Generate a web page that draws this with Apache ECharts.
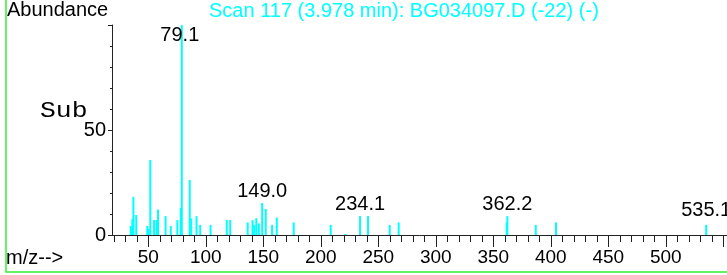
<!DOCTYPE html>
<html>
<head>
<meta charset="utf-8">
<script src="https://cdn.jsdelivr.net/npm/echarts@6/dist/echarts.min.js"></script>
<style>
html, body { margin: 0; padding: 0; background: #fff; }
#container { width: 727px; height: 275px; }
</style>
</head>
<body>
<div id="container"></div>
<script>
// mass spectrum, scan 117
var mzValues = [34.7, 36.1, 37.0, 39.5, 49.1, 50.3, 51.7, 55.0, 57.1, 58.4,
    65.0, 69.5, 75.2, 78.2, 79.1, 86.0, 87.3, 91.9, 95.1, 104.1,
    118.2, 121.2, 136.4, 140.6, 142.1, 143.9, 146.1, 149.0, 152.1, 157.6,
    161.7, 176.4, 208.6, 221.3, 234.1, 241.0, 259.9, 267.7, 361.6, 362.2,
    386.9, 404.5, 535.1];
var abundance = [4.3, 7.6, 18.2, 9.5, 4.3, 2.9, 35.7, 7.1, 7.1, 12.1,
    9.0, 4.3, 7.1, 12.9, 100, 26.2, 7.9, 9.0, 4.8, 4.8,
    7.1, 7.1, 6.0, 7.1, 4.8, 8.0, 5.5, 15.2, 12.4, 4.8,
    8.3, 6.0, 4.8, 0.5, 9.0, 9.0, 4.8, 6.0, 6.0, 9.0,
    4.8, 6.0, 4.8];
var labeledPeaks = [79.1, 149.0, 234.1, 362.2, 535.1];
var majorTicks = [50, 100, 150, 200, 250, 300, 350, 400, 450, 500, 550];
var tickLabels = [50, 100, 150, 200, 250, 300, 350, 400, 450, 500];
var minorTicks = [];
for (var t = 20; t <= 550; t += 10) minorTicks.push(t);

var dom = document.getElementById("container");
var myChart = echarts.init(dom);

var barData = mzValues.map(function (m, i) {
    var item = { value: [m, abundance[i]] };
    if (labeledPeaks.indexOf(m) >= 0) {
        item.label = {
            show: true,
            formatter: m.toFixed(1),
            position: 'top',
            distance: m > 500 ? 4 : 2
        };
        if (m === 79.1) {
            item.label.position = 'insideTop';
            item.label.distance = 0;
            item.label.offset = [-2, 0];
        }
    }
    return item;
});

var font = 'Arial, "Liberation Sans", sans-serif';

option = {
    animation: false,
    grid: {
        left: 112,
        right: 0,
        top: 25,
        bottom: 40,
        outerBoundsMode: 'none'
    },
    xAxis: [{
        type: 'value',
        min: 18.4,
        max: 553.2,
        axisLine: { lineStyle: { color: '#222', width: 1 } },
        axisTick: {
            show: true,
            customValues: majorTicks,
            length: 12,
            lineStyle: { color: '#222' }
        },
        axisLabel: {
            customValues: tickLabels,
            color: '#000',
            fontSize: 19,
            fontFamily: font,
            margin: 13
        },
        splitLine: { show: false }
    }, {
        type: 'value',
        min: 18.4,
        max: 553.2,
        position: 'bottom',
        axisLine: { show: false },
        axisTick: {
            show: true,
            customValues: minorTicks,
            length: 7,
            lineStyle: { color: '#222' }
        },
        axisLabel: { show: false },
        splitLine: { show: false }
    }],
    yAxis: {
        type: 'value',
        min: 0,
        max: 100,
        interval: 50,
        axisLine: { show: true, lineStyle: { color: '#222' } },
        axisTick: { show: true, length: 4, lineStyle: { color: '#222' } },
        minorTick: { show: true, splitNumber: 5, length: 2, lineStyle: { color: '#222' } },
        axisLabel: {
            color: '#000',
            fontSize: 20,
            fontFamily: font,
            margin: 6,
            formatter: function (v) { return v === 100 ? '' : v; }
        },
        splitLine: { show: false }
    },
    graphic: [{
        type: 'rect',
        shape: { x: 6, y: -5, width: 740, height: 277 },
        style: { fill: 'none', stroke: '#33ee33', lineWidth: 1.5 },
        silent: true
    }, {
        type: 'text',
        left: 7,
        top: 0,
        style: { text: 'Abundance', fill: '#000', font: '20px ' + font }
    }, {
        type: 'text',
        left: 209,
        top: 1,
        style: { text: 'Scan 117 (3.978 min): BG034097.D (-22) (-)', fill: '#00ffff', font: '20px ' + font }
    }, {
        type: 'text',
        x: 40,
        y: 100,
        scaleX: 1.2,
        style: { text: 'Sub', fill: '#000', font: '22px "Liberation Mono", "Courier New", monospace' }
    }, {
        type: 'text',
        left: 6,
        top: 248,
        style: { text: 'm/z-->', fill: '#000', font: '20px ' + font }
    }],
    series: [{
        type: 'bar',
        xAxisIndex: 0,
        barWidth: 2,
        itemStyle: { color: '#00ffff' },
        label: {
            color: '#000',
            fontSize: 20,
            fontFamily: font
        },
        data: barData
    }]
};
if (option && typeof option === "object") {
    myChart.setOption(option, true);
}
</script>
</body>
</html>
